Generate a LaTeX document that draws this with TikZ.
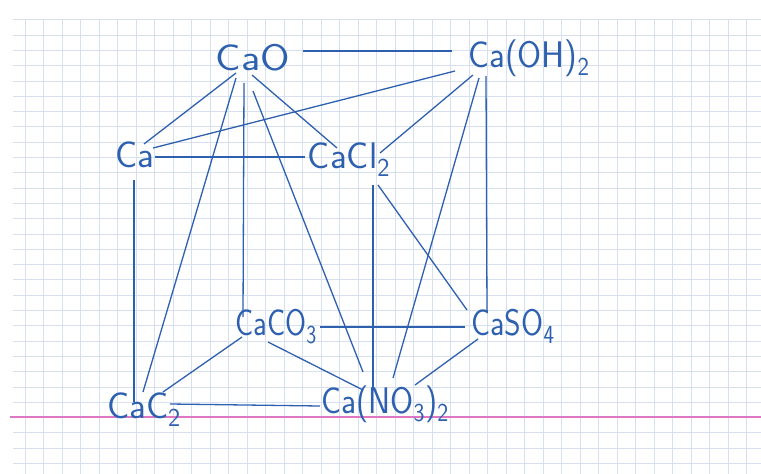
\documentclass[tikz,border=0pt]{standalone}
\usepackage{xcolor}
\usepackage{tikz}
\usetikzlibrary{positioning}
\definecolor{inkblue}{RGB}{46,96,176}
\definecolor{gridblue}{RGB}{214,224,240}
\definecolor{marginpink}{RGB}{222,120,196}

\begin{document}
\begin{tikzpicture}[
    x=1pt, y=-1pt,
    chem/.style={anchor=base, inner sep=0pt, text=inkblue, font=\sffamily\fontsize{37}{40}\selectfont},
    link/.style={draw=inkblue, line width=1.3pt},
    gridline/.style={draw=gridblue, line width=0.8pt},
]
    \useasboundingbox (0,0) rectangle (761,474);

    % Squared paper
    \foreach \k in {0,...,29} \draw[gridline] (13,{19.7+15.3*\k}) -- (761,{19.7+15.3*\k});
    \foreach \k in {0,...,39} \draw[gridline] ({25+18.5*\k},19) -- ({25+18.5*\k},474);
    \draw[marginpink, line width=1.6pt] (10,417) -- (761,417);

    % Compounds
    \node[chem] (CaO) at (253,70) {\scalebox{1.15}[1]{CaO}};
    \node[chem] (CaOH) at (529,67) {\scalebox{0.94}[1]{Ca(OH)\textsubscript{2}}};
    \node[chem] (Ca) at (135,167) {Ca};
    \node[chem] (CaCl) at (349,168) {CaCl\textsubscript{2}};
    \node[chem] (CaCO) at (276,335) {\scalebox{0.82}[1]{CaCO\textsubscript{3}}};
    \node[chem] (CaSO) at (513,335) {\scalebox{0.86}[1]{CaSO\textsubscript{4}}};
    \node[chem] (CaC) at (144,418) {CaC\textsubscript{2}};
    \node[chem] (CaNO) at (385,413) {\scalebox{0.9}[1]{Ca(NO\textsubscript{3})\textsubscript{2}}};

    % Links from CaO
    \draw[link] ([shift={(50,-19)}]CaO.base) -- ([shift={(-77,-16)}]CaOH.base);
    \draw[link] ([shift={(-17,3)}]CaO.base) -- ([shift={(9,-23)}]Ca.base);
    \draw[link] ([shift={(-1,5)}]CaO.base) -- ([shift={(-12,-20)}]CaCl.base);
    \draw[link] ([shift={(-17,8)}]CaO.base) -- ([shift={(-1,-26)}]CaC.base);
    \draw[link] ([shift={(-9,13)}]CaO.base) -- ([shift={(-33,-18)}]CaCO.base);
    \draw[link] ([shift={(0,21)}]CaO.base) -- ([shift={(-22,-41)}]CaNO.base);

    % Links from Ca(OH)2
    \draw[link] ([shift={(-74,4)}]CaOH.base) -- ([shift={(18,-19)}]Ca.base);
    \draw[link] ([shift={(-56,8)}]CaOH.base) -- ([shift={(31,-15)}]CaCl.base);
    \draw[link] ([shift={(-50,11)}]CaOH.base) -- ([shift={(8,-35)}]CaNO.base);
    \draw[link] ([shift={(-43,9)}]CaOH.base) -- ([shift={(-26,-22)}]CaSO.base);

    % Links from Ca and CaCl2
    \draw[link] ([shift={(20,-10)}]Ca.base) -- ([shift={(-44,-11)}]CaCl.base);
    \draw[link] ([shift={(-1,13)}]Ca.base) -- ([shift={(-10,-16)}]CaC.base);
    \draw[link] ([shift={(24,17)}]CaCl.base) -- ([shift={(-12,-25)}]CaNO.base);
    \draw[link] ([shift={(29,17)}]CaCl.base) -- ([shift={(-46,-25)}]CaSO.base);

    % Lower links
    \draw[link] ([shift={(44,-8)}]CaCO.base) -- ([shift={(-48,-8)}]CaSO.base);
    \draw[link] ([shift={(-34,2)}]CaCO.base) -- ([shift={(19,-26)}]CaC.base);
    \draw[link] ([shift={(-8,7)}]CaCO.base) -- ([shift={(-22,-23)}]CaNO.base);
    \draw[link] ([shift={(-35,4)}]CaSO.base) -- ([shift={(30,-28)}]CaNO.base);
    \draw[link] ([shift={(26,-14)}]CaC.base) -- ([shift={(-65,-7)}]CaNO.base);
\end{tikzpicture}
\end{document}
